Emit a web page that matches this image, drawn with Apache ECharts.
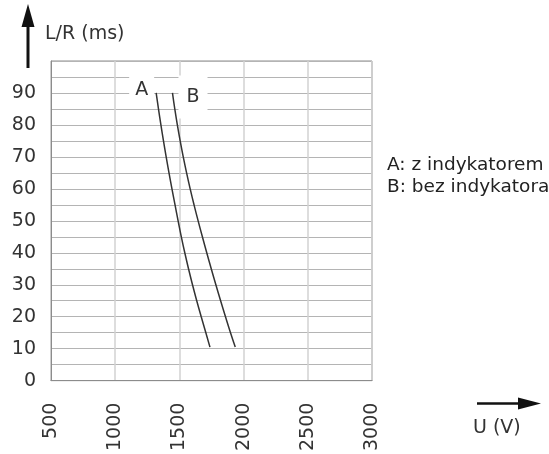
<!DOCTYPE html>
<html>
<head>
<meta charset="utf-8">
<script src="https://cdn.jsdelivr.net/npm/echarts@6/dist/echarts.min.js"></script>
<style>
  html, body { margin: 0; padding: 0; background: #fff; }
  #chart { width: 549px; height: 454px; }
</style>
</head>
<body>
<div id="chart"></div>
<script>
// L/R in ms, sampled along each curve
const lrValues = [90, 85, 80, 75, 70, 65, 60, 55, 50, 45, 40, 35, 30, 25, 20, 15, 10.5];
// voltage (V) for curve A (z indykatorem)
const voltA = [1319, 1337, 1356, 1376, 1397, 1419, 1442, 1466, 1490, 1515, 1542, 1571, 1602, 1635, 1670, 1706, 1738];
// voltage (V) for curve B (bez indykatora)
const voltB = [1446, 1464, 1484, 1506, 1530, 1556, 1584, 1614, 1646, 1679, 1713, 1748, 1784, 1821, 1859, 1898, 1935];
const xTicks = [500, 1000, 1500, 2000, 2500, 3000];
const legendLines = ['A: z indykatorem', 'B: bez indykatora'];

const font = 'DejaVu Sans';
const chart = echarts.init(document.getElementById('chart'), null, { renderer: 'canvas' });

function toPoints(xs, ys) {
  return xs.map((x, i) => [x, ys[i]]);
}

const dataA = toPoints(voltA, lrValues);
const dataB = toPoints(voltB, lrValues);

// first point carries the curve letter, boxed in white so the grid breaks around it
dataA[0] = {
  value: dataA[0],
  label: {
    show: true, formatter: 'A', position: 'left', distance: 2, offset: [0, -3],
    backgroundColor: '#fff', padding: [7, 6, 5, 6],
    fontFamily: font, fontSize: 19, color: '#333'
  }
};
dataB[0] = {
  value: dataB[0],
  label: {
    show: true, formatter: 'B', position: 'right', distance: 6, offset: [0, 4],
    backgroundColor: '#fff', padding: [16, 8, 8, 8],
    fontFamily: font, fontSize: 19, color: '#333'
  }
};

const option = {
  animation: false,
  grid: {
    left: 51, right: 177, top: 61, bottom: 70,
    show: true, borderColor: '#8c8c8c', borderWidth: 1
  },
  xAxis: {
    type: 'value',
    min: xTicks[0],
    max: xTicks[xTicks.length - 1],
    interval: 500,
    axisLine: { lineStyle: { color: '#8c8c8c' } },
    axisTick: { show: false },
    axisLabel: {
      rotate: 90, margin: 22, fontFamily: font, fontSize: 19, color: '#333',
      formatter: v => String(v)
    },
    splitLine: { lineStyle: { color: '#d2d2d2', width: 1.5 } }
  },
  yAxis: {
    type: 'value',
    min: 0, max: 100, interval: 10,
    axisLine: { show: true, lineStyle: { color: '#8c8c8c' } },
    axisTick: { show: false },
    axisLabel: {
      showMaxLabel: false, margin: 15, fontFamily: font, fontSize: 19, color: '#333'
    },
    splitLine: { lineStyle: { color: '#b4b4b4' } },
    minorTick: { show: false, splitNumber: 2 },
    minorSplitLine: { show: true, lineStyle: { color: '#b4b4b4' } }
  },
  series: [
    {
      name: 'A', type: 'line', smooth: true, showSymbol: true, symbol: 'circle', symbolSize: 0,
      data: dataA, lineStyle: { color: '#333', width: 1.5 }, itemStyle: { color: '#333' }, z: 3
    },
    {
      name: 'B', type: 'line', smooth: true, showSymbol: true, symbol: 'circle', symbolSize: 0,
      data: dataB, lineStyle: { color: '#333', width: 1.5 }, itemStyle: { color: '#333' }, z: 3
    }
  ],
  graphic: [
    // vertical arrow for L/R
    { type: 'line', shape: { x1: 28, y1: 68, x2: 28, y2: 20 }, style: { stroke: '#111', lineWidth: 3 } },
    { type: 'polygon', shape: { points: [[28, 4], [21.5, 27], [34.5, 27]] }, style: { fill: '#111' } },
    { type: 'text', x: 45, y: 34, style: { text: 'L/R (ms)', font: '19px "DejaVu Sans"', fill: '#333', verticalAlign: 'middle' } },
    // horizontal arrow for U
    { type: 'line', shape: { x1: 477, y1: 403.5, x2: 522, y2: 403.5 }, style: { stroke: '#111', lineWidth: 2.5 } },
    { type: 'polygon', shape: { points: [[541, 403.5], [518, 397.5], [518, 409.5]] }, style: { fill: '#111' } },
    { type: 'text', x: 473, y: 428, style: { text: 'U (V)', font: '19px "DejaVu Sans"', fill: '#333', verticalAlign: 'middle' } },
    // key
    { type: 'text', x: 387, y: 165, style: { text: legendLines[0], font: '18.5px "DejaVu Sans"', fill: '#222', verticalAlign: 'middle' } },
    { type: 'text', x: 387, y: 187, style: { text: legendLines[1], font: '18.5px "DejaVu Sans"', fill: '#222', verticalAlign: 'middle' } }
  ]
};

chart.setOption(option);
</script>
</body>
</html>
